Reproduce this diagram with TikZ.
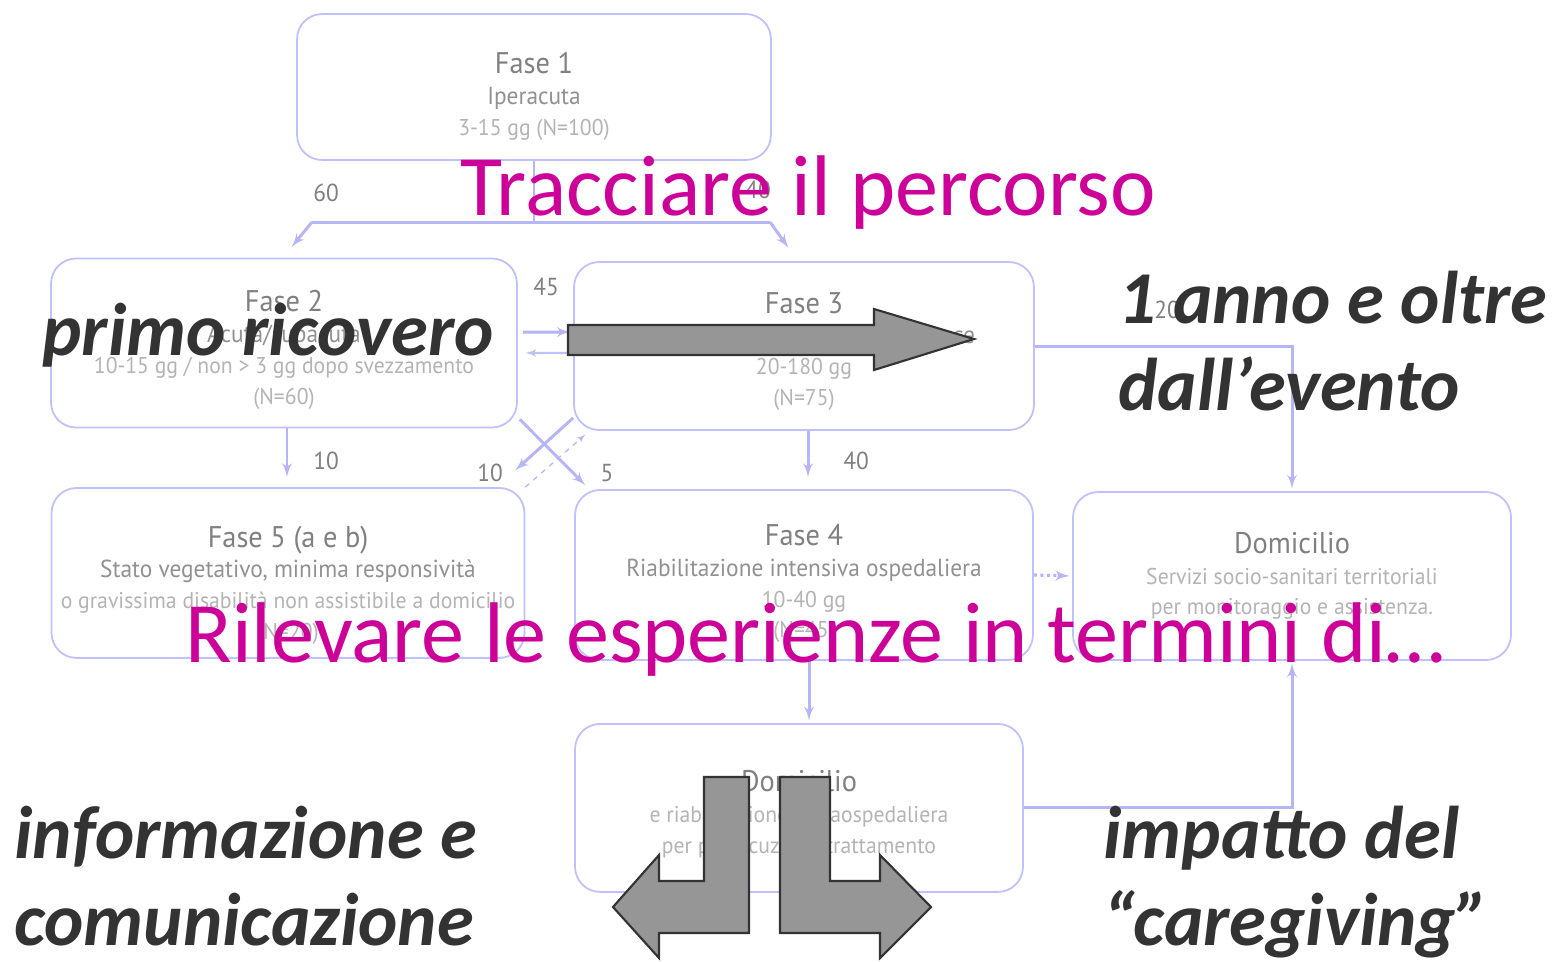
\documentclass[tikz,border=0pt]{standalone}
\usepackage{fontspec}
\setmainfont{Carlito}
\newfontfamily\boxfont[FakeStretch=0.95]{PT Sans}
\usetikzlibrary{shapes, arrows, positioning}
\definecolor{boxline}{RGB}{192,192,250}
\definecolor{wirecol}{RGB}{182,182,247}
\definecolor{titlegray}{RGB}{128,128,128}
\definecolor{textgray}{RGB}{145,145,145}
\definecolor{faintgray}{RGB}{180,180,180}
\definecolor{tracepink}{RGB}{204,0,153}
\definecolor{darktext}{RGB}{51,51,51}
\definecolor{blockgray}{RGB}{150,150,150}
% title line of a box, the optional strut pushes the text block down
\newcommand{\phasename}[2][12pt]{{\color{titlegray}\fontsize{17}{17.5}\selectfont\rule{0pt}{#1}#2}}
\newcommand{\phasesub}[1]{{\fontsize{14}{17.5}\selectfont #1}}
\newcommand{\phasefaint}[1]{{\color{faintgray}#1}}
\tikzstyle{phase} =
        [
                rectangle,
                draw = boxline,
                line width = 1pt,
                fill = white,
                rounded corners = 0.5cm,
                align = center,
                text = textgray,
                font = \boxfont\fontsize{13}{17.5}\selectfont,
                inner sep = 0pt
        ]
\tikzstyle{wire} =
        [
                draw = wirecol,
                line width = 1.7pt
        ]
\tikzstyle{flow} =
        [
                wire,
                -latex',
                shorten > = 0.05cm
        ]
\tikzstyle{count} =
        [
                text = titlegray,
                font = \boxfont\fontsize{14}{14}\selectfont
        ]
\tikzstyle{bigarrow} =
        [
                draw = darktext,
                fill = blockgray,
                line width = 1.2pt
        ]
\tikzstyle{remark} =
        [
                text = darktext,
                font = \fontsize{42.5}{49.5}\selectfont\bfseries\itshape,
                align = left,
                inner sep = 0pt,
                anchor = base west
        ]
\tikzstyle{headline} =
        [
                text = tracepink,
                font = \fontsize{49}{58}\selectfont,
                inner sep = 0pt,
                anchor = base west
        ]

\begin{document}
\begin{tikzpicture}[x = 0.02cm, y = -0.02cm, node distance = 4.6cm]
        \useasboundingbox (0,0) rectangle (1552,961);

        \node [phase, minimum width = 9.48cm, minimum height = 2.92cm] at (534,87) (phase1) {\phasename[23pt]{Fase 1}\\\phasesub{Iperacuta}\\\phasefaint{3-15 gg (N=100)}};
        \node [phase, minimum width = 9.32cm, minimum height = 3.38cm] at (284,343) (phase2) {\phasename[20pt]{Fase 2}\\\phasesub{Acuta/subacuta}\\\phasefaint{10-15 gg / non > 3 gg dopo svezzamento}\\\phasefaint{(N=60)}};
        \node [phase, minimum width = 9.2cm, minimum height = 3.36cm] at (804,346) (phase3) {\phasename[18pt]{Fase 3}\\\phasesub{Riabilitazione ospedaliera precoce}\\\phasefaint{20-180 gg}\\\phasefaint{(N=75)}};
        \node [phase, minimum width = 9.46cm, minimum height = 3.4cm, below of = phase2, xshift = 0.08cm] (phase5) {\phasename[26pt]{Fase 5 (a e b)}\\\phasesub{Stato vegetativo, minima responsività}\\\phasefaint{o gravissima disabilità non assistibile a domicilio}\\\phasefaint{(N=20)}};
        \node [phase, minimum width = 9.16cm, minimum height = 3.4cm, below of = phase3, node distance = 4.58cm] (phase4) {\phasename[22pt]{Fase 4}\\\phasesub{Riabilitazione intensiva ospedaliera}\\\phasefaint{10-40 gg}\\\phasefaint{(N=45)}};
        \node [phase, minimum width = 8.76cm, minimum height = 3.36cm] at (1292,576) (home) {\phasename{Domicilio}\\\phasefaint{Servizi socio-sanitari territoriali}\\\phasefaint{per monitoraggio e assistenza.}};
        \node [phase, minimum width = 8.96cm, minimum height = 3.36cm, below of = phase4, node distance = 4.66cm, xshift = -0.1cm] (homerehab) {\phasename[19pt]{Domicilio}\\\phasefaint{e riabilitazione extraospedaliera}\\\phasefaint{per prosecuzione trattamento}};

        \coordinate (fork) at (534,222);
        \coordinate (forkL) at (312,222);
        \coordinate (forkR) at (770,222);
        \coordinate (into2) at (290,249);
        \coordinate (into3) at (790,250);

        \path [wire] (phase1.south) -- (fork);
        \path [wire] (forkL) -- (forkR);
        \path [flow] (forkL) -- (into2);
        \path [flow] (forkR) -- (into3);
        \path [flow] ([xshift = 0.1cm, yshift = 0.22cm]phase2.east) -- ([yshift = 0.28cm]phase3.west);
        \path [flow, draw = boxline, line width = 1.2pt] ([yshift = -0.14cm]phase3.west) -- ([xshift = 0.1cm, yshift = -0.2cm]phase2.east);
        \path [flow, shorten > = 0.2cm] ([xshift = 0.06cm]phase2.south) -- ([xshift = 0.06cm]phase2.south |- phase5.north);
        \path [flow] ([xshift = 0.04cm, yshift = 0.18cm]phase2.south east) -- ([xshift = 0.26cm, yshift = 0.04cm]phase4.north west);
        \path [flow] ([yshift = 0.26cm]phase3.south west) -- ([xshift = -0.24cm, yshift = 0.3cm]phase5.north east);
        \path [flow, dashed, line width = 0.7pt] (phase5.north east) -- ([xshift = 0.28cm, yshift = -0.04cm]phase3.south west);
        \path [flow, shorten > = 0.24cm] ([xshift = 0.08cm]phase3.south) -- ([xshift = 0.08cm]phase3.south |- phase4.north);
        \path [flow] (phase3.east) -| (home.north);
        \path [flow, dotted, line width = 1.8pt] (phase4.east) -- (home.west);
        \path [flow] ([xshift = 0.1cm]phase4.south) -- ([xshift = 0.1cm]phase4.south |- homerehab.north);
        \path [flow] (homerehab.east) -| (home.south);

        \node [count] (n60) at (326,193) {60};
        \node [count] (n40top) at (758,190) {40};
        \node [count] (n45) at (546,287) {45};
        \node [count] (n10left) at (326,461) {10};
        \node [count] (n10cross) at (490,473) {10};
        \node [count] (n5) at (607,473) {5};
        \node [count] (n40) at (856,461) {40};
        \node [count] (n20) at (1167,310) {20};

        \path [bigarrow] (568,325) -- (874,325) -- (874,309) -- (974,339) -- (874,370) -- (874,355) -- (568,355) -- cycle;
        \path [bigarrow] (704,777) -- (749,777) -- (749,933) -- (659,933) -- (659,958) -- (613,907) -- (659,855) -- (659,881) -- (704,881) -- cycle;
        \path [bigarrow] (780,777) -- (830,777) -- (830,881) -- (880,881) -- (880,855) -- (931,907) -- (880,958) -- (880,933) -- (780,933) -- cycle;

        \node [headline] (trace) at (460,215) {Tracciare il percorso};
        \node [headline] (survey) at (185,662) {Rilevare le esperienze in termini di…};
        \node [remark] (first) at (42,355) {primo ricovero};
        \node [remark] (year) at (1118,410) {1 anno e oltre\\dall’evento};
        \node [remark] (info) at (14,945) {informazione e\\comunicazione};
        \node [remark] (care) at (1103,945) {impatto del\\“caregiving”};
\end{tikzpicture}
\end{document}
